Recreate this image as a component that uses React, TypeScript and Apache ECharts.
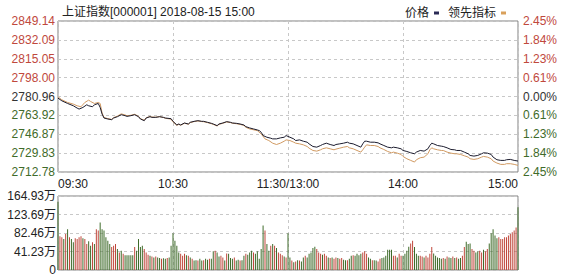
import React, { useEffect, useRef } from 'react';
import * as echarts from 'echarts';

const titleText = '上证指数[000001] 2018-08-15 15:00';
const prevClose = 2780.96;
const priceStep = 17.045;
const volStep = 41.2325;

const priceTickLabels = ['2712.78', '2729.83', '2746.87', '2763.92', '2780.96', '2798.00', '2815.05', '2832.09', '2849.14'];
const pctTickLabels = ['2.45%', '1.84%', '1.23%', '0.61%', '0.00%', '0.61%', '1.23%', '1.84%', '2.45%'];
const volTickLabels = ['0', '41.23万', '82.46万', '123.69万', '164.93万'];
const timeTickMinutes = [0, 60, 120, 180, 240];
const timeTickLabels = ['09:30', '10:30', '11:30/13:00', '14:00', '15:00'];

const priceMinutes = [0,2,5,8,10,11,13,15,16,18,19,21,22,23,24,26,28,29,31,33,35,36,38,40,42,43,45,46,48,49,51,53,55,56,59,60,62,63,64,66,68,69,71,73,75,76,78,80,81,83,84,86,88,90,91,93,95,97,98,100,102,104,105,106,107,109,111,112,114,116,118,119,121,123,124,126,128,130,131,133,135,137,138,140,142,144,145,147,149,151,152,154,156,158,159,160,161,163,165,167,168,170,172,174,175,177,179,180,182,184,186,187,189,191,193,194,195,196,198,200,201,203,205,207,208,210,212,214,215,217,219,221,222,224,226,227,229,231,233,234,236,238,240];
const priceValues = [2779.47,2777.07,2774.68,2772.59,2770.49,2769.60,2771.09,2773.48,2772.59,2771.69,2773.48,2774.68,2771.09,2765.11,2761.52,2760.63,2760.03,2761.52,2762.72,2764.51,2763.62,2763.02,2763.62,2764.51,2762.72,2760.63,2759.13,2761.52,2762.72,2762.12,2762.12,2762.72,2762.12,2761.52,2760.93,2758.53,2755.25,2756.14,2755.25,2757.04,2756.14,2757.64,2758.53,2759.13,2758.53,2758.53,2757.64,2756.74,2756.14,2754.65,2756.14,2757.04,2758.24,2757.64,2757.04,2756.74,2756.14,2755.25,2753.75,2752.55,2751.66,2750.76,2750.16,2748.67,2745.68,2744.18,2743.29,2742.69,2742.69,2743.58,2744.18,2745.68,2744.18,2742.69,2741.19,2741.79,2740.59,2739.70,2738.20,2735.81,2735.21,2736.71,2737.60,2738.80,2737.60,2736.71,2737.60,2738.20,2738.80,2739.70,2738.80,2738.20,2736.71,2735.21,2738.20,2740.59,2740.59,2739.70,2739.70,2739.10,2738.20,2736.71,2735.21,2734.61,2735.21,2734.61,2733.72,2732.22,2731.33,2730.13,2729.23,2730.73,2732.22,2731.62,2733.72,2736.71,2738.80,2738.20,2736.71,2736.11,2735.81,2734.61,2733.12,2732.82,2732.22,2732.22,2730.73,2729.23,2727.74,2727.14,2727.74,2729.23,2730.13,2729.83,2728.63,2726.24,2723.85,2723.25,2723.25,2723.85,2724.15,2723.25,2722.65];

const leadMinutes = [0,2,5,8,10,12,14,16,17,19,21,22,23,24,26,28,29,31,33,35,36,38,40,42,43,45,46,48,49,51,53,55,56,59,60,62,63,64,66,68,69,71,73,75,76,78,80,81,83,84,86,88,90,91,93,95,97,98,100,104,106,108,110,112,114,116,118,119,121,123,124,126,128,130,131,133,135,137,138,140,142,144,145,147,149,151,152,154,156,158,159,160,161,163,165,167,168,170,172,174,175,177,179,180,182,184,186,187,189,191,193,194,195,196,198,200,201,203,205,207,208,210,212,214,215,217,219,221,222,224,226,227,229,231,233,234,236,238,240];
const leadValues = [2780.66,2777.97,2775.58,2774.08,2772.59,2771.69,2775.58,2777.67,2776.47,2774.68,2775.58,2774.68,2766.0,2762.0,2761.0,2760.3,2761.8,2763.3,2765.3,2764.3,2763.6,2764.0,2764.9,2763.1,2761.0,2759.5,2761.8,2762.9,2762.4,2762.3,2762.8,2762.0,2761.3,2760.5,2758.0,2754.9,2755.8,2755.0,2756.8,2755.9,2757.4,2758.3,2758.9,2758.3,2758.2,2757.4,2756.4,2755.8,2754.3,2755.8,2756.8,2758.0,2757.4,2756.8,2756.4,2755.8,2754.8,2753.15,2751.66,2750.16,2747.17,2742.69,2741.19,2738.80,2737.60,2738.80,2740.59,2741.79,2741.19,2739.70,2738.80,2738.20,2737.31,2735.81,2734.32,2732.22,2731.62,2732.82,2733.72,2734.61,2733.72,2732.82,2733.42,2734.32,2735.21,2735.81,2734.61,2733.72,2732.22,2730.73,2732.82,2735.21,2737.31,2736.71,2736.71,2735.81,2734.61,2733.12,2731.33,2730.13,2730.73,2729.83,2728.63,2726.84,2724.75,2723.25,2721.76,2723.85,2725.64,2726.24,2729.23,2732.82,2734.61,2733.72,2732.82,2732.22,2732.22,2730.73,2729.83,2729.23,2729.23,2728.63,2727.44,2726.24,2724.75,2724.15,2724.75,2726.24,2726.84,2726.24,2724.75,2722.65,2720.86,2719.66,2719.66,2720.26,2720.26,2719.66,2718.77];

// volume in 万 per minute (241 minutes)
const volumeValues = [
  152,75,73,69,80,91,73,69,62,71,
  69,73,75,71,69,58,64,54,62,58,
  91,88,106,91,88,73,65,58,51,54,
  58,47,39,43,36,33,33,33,33,33,
  51,43,69,51,54,47,39,34,32,30,
  28,30,28,27,25,26,25,27,28,54,
  82,65,54,39,36,32,36,33,32,28,
  25,21,22,21,25,21,22,25,23,25,
  25,42,43,39,30,32,28,21,37,36,
  27,25,28,21,23,21,22,32,36,34,
  39,43,39,36,42,25,47,99,88,58,
  43,54,58,54,49,39,36,33,30,28,
  82,28,21,17,19,22,21,19,28,32,
  28,36,39,49,52,47,39,36,34,36,
  32,28,27,28,25,28,27,25,27,23,
  22,22,25,32,33,32,36,33,36,39,
  42,36,28,25,22,22,21,19,25,27,
  28,32,45,45,45,32,32,28,36,32,
  32,36,43,52,59,65,51,36,32,32,
  30,28,32,28,36,51,37,32,28,27,
  25,27,25,30,28,27,30,27,28,25,
  27,32,51,63,58,59,47,43,39,42,
  43,39,45,42,47,59,82,91,77,71,
  73,69,69,73,73,77,80,84,88,95,
  140
];
// u = up minute (red), d = down minute (green)
const volumeDirections =
  'duudududdu' + 'uuuduuddud' + 'uudddddduu' + 'udududdddd' + 'udddduuudu' +
  'dudduddudd' + 'dddduuudud' + 'uddudduddu' + 'ddudduudud' + 'ddudduddud' +
  'ddudddddud' + 'dududuuudu' + 'ddudududdu' + 'ddddduuudu' + 'ududuuduud' +
  'dudduddddu' + 'uuddudduud' + 'ddddduuduu' + 'dddduudddu' + 'uduuuudddd' +
  'dududdudud' + 'duuddduudd' + 'uuduuddddd' + 'uuuuuuuuuu' + 'd';

const UP = '#c0483c';
const DOWN = '#3f6b2a';
const NEUTRAL = '#333333';
const FONT = '"Liberation Sans", "Noto Sans CJK SC", sans-serif';

export default function App() {
  const ref = useRef<HTMLDivElement>(null);
  useEffect(() => {
    const chart = echarts.init(ref.current!, null, { renderer: 'svg' });
    const priceIdx = (v: number) => Math.round(v / priceStep) + 4;
    const splitDashed = { show: true, lineStyle: { color: '#c8c8c8', type: [3, 3] as any, width: 1 } };
    const option: any = {
      animation: false,
      textStyle: { fontFamily: FONT },
      title: {
        text: titleText,
        left: 57,
        top: 1,
        textStyle: { fontSize: 12, fontWeight: 'normal', color: '#222', fontFamily: FONT },
      },
      legend: {
        data: ['价格', '领先指标'],
        right: 66,
        top: 2,
        align: 'right',
        icon: 'rect',
        itemWidth: 5,
        itemHeight: 3,
        itemGap: 9,
        textStyle: { fontSize: 12, color: '#222', fontFamily: FONT },
      },
      grid: [
        { left: 58, right: 59, top: 21, height: 151, show: true, borderColor: '#808080', borderWidth: 1, backgroundColor: 'transparent' },
        { left: 58, right: 59, top: 196, height: 74, show: true, borderColor: '#808080', borderWidth: 1, backgroundColor: 'transparent' },
      ],
      xAxis: [
        {
          type: 'value', gridIndex: 0, min: 0, max: 240, interval: 60,
          axisLine: { show: false }, axisTick: { show: false },
          splitLine: splitDashed,
          axisLabel: {
            show: true, margin: 6, fontSize: 12, color: '#222', fontFamily: FONT,
            alignMinLabel: 'left', alignMaxLabel: 'right',
            formatter: (v: number) => timeTickLabels[timeTickMinutes.indexOf(Math.round(v))] ?? '',
          },
        },
        {
          type: 'value', gridIndex: 1, min: 0, max: 240, interval: 60,
          axisLine: { show: false }, axisTick: { show: false },
          splitLine: splitDashed,
          axisLabel: { show: false },
        },
      ],
      yAxis: [
        {
          type: 'value', gridIndex: 0, position: 'left',
          min: -4 * priceStep, max: 4 * priceStep, interval: priceStep,
          axisLine: { show: false }, axisTick: { show: false },
          splitLine: splitDashed,
          axisLabel: {
            margin: 3, fontSize: 12, fontFamily: FONT,
            formatter: (v: number) => priceTickLabels[priceIdx(v)] ?? '',
            color: (v: number) => { const i = priceIdx(v); return i > 4 ? UP : i < 4 ? DOWN : NEUTRAL; },
          },
        },
        {
          type: 'value', gridIndex: 0, position: 'right',
          min: -4 * priceStep, max: 4 * priceStep, interval: priceStep,
          axisLine: { show: false }, axisTick: { show: false },
          splitLine: { show: false },
          axisLabel: {
            margin: 5, fontSize: 12, fontFamily: FONT,
            formatter: (v: number) => pctTickLabels[priceIdx(v)] ?? '',
            color: (v: number) => { const i = priceIdx(v); return i > 4 ? UP : i < 4 ? DOWN : NEUTRAL; },
          },
        },
        {
          type: 'value', gridIndex: 1, position: 'left',
          min: 0, max: 4 * volStep, interval: volStep,
          axisLine: { show: false }, axisTick: { show: false },
          splitLine: splitDashed,
          axisLabel: {
            margin: 2, fontSize: 12, color: '#222', fontFamily: FONT,
            formatter: (v: number) => volTickLabels[Math.round(v / volStep)] ?? '',
          },
        },
      ],
      series: [
        {
          name: '领先指标', type: 'line', xAxisIndex: 0, yAxisIndex: 0,
          showSymbol: false, symbol: 'none', color: '#d9a05b',
          lineStyle: { width: 1, color: '#d19a62' },
          data: leadMinutes.map((m, i) => [m, leadValues[i] - prevClose]),
          z: 2,
        },
        {
          name: '价格', type: 'line', xAxisIndex: 0, yAxisIndex: 0,
          showSymbol: false, symbol: 'none', color: '#2a2a55',
          lineStyle: { width: 1, color: '#1c1c2e' },
          data: priceMinutes.map((m, i) => [m, priceValues[i] - prevClose]),
          z: 3,
        },
        {
          name: '成交量', type: 'bar', xAxisIndex: 1, yAxisIndex: 2,
          barWidth: 1,
          data: volumeValues.map((v, i) => ({
            value: [i, v],
            itemStyle: { color: volumeDirections[i] === 'u' ? UP : DOWN },
          })),
        },
      ],
    };
    chart.setOption(option);
    return () => chart.dispose();
  }, []);
  return <div ref={ref} style={{ position: 'fixed', left: 0, top: 0, width: 577, height: 276, background: '#fff' }} />;
}
